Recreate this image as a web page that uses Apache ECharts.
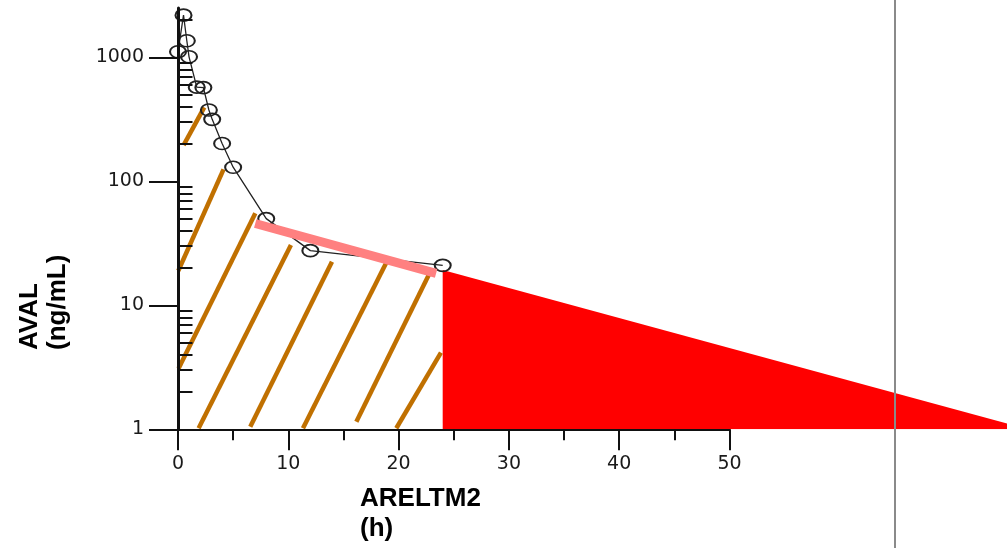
<!DOCTYPE html>
<html>
<head>
<meta charset="utf-8">
<script src="https://cdn.jsdelivr.net/npm/echarts@6/dist/echarts.min.js"></script>
<style>
  html, body { margin: 0; padding: 0; background: #fff; }
  #chart { width: 1007px; height: 548px; }
</style>
</head>
<body>
<div id="chart"></div>
<script>
// concentration-time profile
const times = [0, 0.5, 0.8, 1, 1.7, 2.3, 2.8, 3.1, 4, 5, 8, 12, 24];
const aval = [1110, 2190, 1360, 1010, 575, 570, 376, 316, 202, 130, 50, 27.6, 21];

// terminal phase regression line
const termTimes = [7, 23.4];
const termAval = [45.7, 18.1];

// extrapolated area after last sample
const extrapTimes = [24, 77.1];
const extrapAval = [19.3, 1];

// hatching of the observed AUC, each [start, end] as [time, aval]
const hatchSegments = [
  [[0.51, 196], [2.38, 395]],
  [[0.03, 19.0], [4.13, 125]],
  [[0.05, 3.1], [7.01, 55.2]],
  [[1.87, 1.02], [10.24, 30.6]],
  [[6.55, 1.05], [13.96, 22.5]],
  [[11.33, 1.02], [18.88, 22.0]],
  [[16.17, 1.15], [22.81, 18.1]],
  [[19.79, 1.02], [23.84, 4.15]]
];

const yMajorTicks = [1, 10, 100, 1000];
const yMinorTicks = [2, 3, 4, 5, 6, 7, 8, 9, 20, 30, 40, 50, 60, 70, 80, 90,
  200, 300, 400, 500, 600, 700, 800, 900, 2000];
const refLineTime = 65;

const chart = echarts.init(document.getElementById('chart'));

const labelFont = { fontFamily: 'DejaVu Sans', fontSize: 19, color: '#1a1a1a' };
const titleFont = { fontFamily: 'Liberation Sans', fontWeight: 'bold', fontSize: 26, fill: '#000' };

const yLog = {
  type: 'log', logBase: 10, min: 1, max: 2500
};

const series = [];
hatchSegments.forEach(function (seg) {
  series.push({
    type: 'line', xAxisIndex: 0, yAxisIndex: 0,
    data: seg, symbol: 'none', z: 2,
    lineStyle: { color: '#c07000', width: 4.5, cap: 'butt' }
  });
});
series.push({
  type: 'line', xAxisIndex: 1, yAxisIndex: 2,
  data: extrapTimes.map((t, i) => [t, extrapAval[i]]),
  symbol: 'none', z: 1,
  lineStyle: { width: 0, color: '#ff0000' },
  areaStyle: { color: '#ff0000', opacity: 1, origin: 'start' }
});
series.push({
  type: 'line', xAxisIndex: 0, yAxisIndex: 0,
  data: times.map((t, i) => [t, aval[i]]),
  symbol: 'path://M0 10A10 10 0 1 1 20 10A10 10 0 1 1 0 10Z',
  symbolSize: [16, 12], z: 3,
  lineStyle: { color: '#222', width: 1.3 },
  itemStyle: { color: 'rgba(0,0,0,0)', borderColor: '#222', borderWidth: 1.8 }
});
series.push({
  type: 'line', xAxisIndex: 0, yAxisIndex: 0,
  data: termTimes.map((t, i) => [t, termAval[i]]),
  symbol: 'none', z: 4,
  lineStyle: { color: '#ff8080', width: 9, cap: 'butt' }
});
series.push({
  type: 'line', xAxisIndex: 2, yAxisIndex: 3,
  data: [], symbol: 'none',
  markLine: {
    silent: true, symbol: 'none', label: { show: false },
    lineStyle: { color: '#8a8a8a', width: 2, type: 'solid' },
    data: [{ xAxis: refLineTime }]
  }
});

chart.setOption({
  animation: false,
  backgroundColor: '#fff',
  grid: [
    { left: 178, top: 8, width: 551.5, height: 421.3 },
    { left: 178, top: 8, right: 0, height: 421.3 },
    { left: 178, top: 0, right: 0, bottom: 0 }
  ],
  xAxis: [
    {
      type: 'value', gridIndex: 0, min: 0, max: 50, interval: 10, z: 5,
      axisLine: { show: true, onZero: false, lineStyle: { color: '#111', width: 2 } },
      axisTick: { show: true, length: 21, lineStyle: { color: '#111', width: 2 } },
      minorTick: { show: true, splitNumber: 2, length: 11, lineStyle: { color: '#111', width: 2 } },
      axisLabel: Object.assign({ margin: 25 }, labelFont),
      splitLine: { show: false }, minorSplitLine: { show: false }
    },
    { type: 'value', gridIndex: 1, min: 0, max: 75.16, show: false },
    { type: 'value', gridIndex: 2, min: 0, max: 75.16, show: false }
  ],
  yAxis: [
    Object.assign({}, yLog, {
      gridIndex: 0, z: 5,
      axisLine: { show: true, onZero: false, lineStyle: { color: '#111', width: 3 } },
      axisTick: { show: true, length: 29, customValues: yMajorTicks, lineStyle: { color: '#111', width: 2 } },
      axisLabel: Object.assign({ margin: 34, customValues: yMajorTicks, formatter: v => String(v) }, labelFont),
      splitLine: { show: false }
    }),
    Object.assign({}, yLog, {
      gridIndex: 0, z: 5,
      axisLine: { show: false },
      axisTick: { show: true, length: 14.5, customValues: yMinorTicks, lineStyle: { color: '#111', width: 2 } },
      axisLabel: { show: false },
      splitLine: { show: false }
    }),
    Object.assign({}, yLog, { gridIndex: 1, show: false }),
    { type: 'value', gridIndex: 2, min: 0, max: 1, show: false }
  ],
  graphic: [
    {
      type: 'text', x: 16, y: 350, rotation: Math.PI / 2,
      style: Object.assign({ text: 'AVAL\n(ng/mL)', align: 'left', verticalAlign: 'top', lineHeight: 28 }, titleFont)
    },
    {
      type: 'text', x: 360, y: 484,
      style: Object.assign({ text: 'ARELTM2\n(h)', align: 'left', verticalAlign: 'top', lineHeight: 30 }, titleFont)
    }
  ],
  series: series
});
</script>
</body>
</html>
